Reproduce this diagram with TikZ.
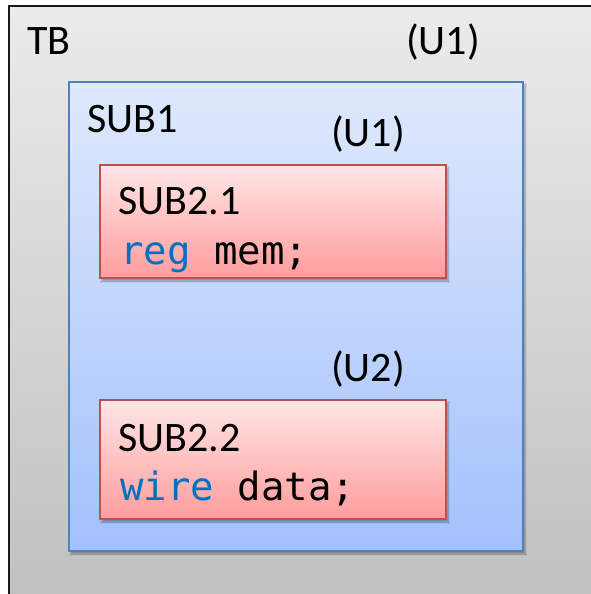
\documentclass[tikz,border=0pt]{standalone}
\usepackage{fontspec}
\setmainfont{Carlito}
\newfontfamily\codefont{DejaVu Sans Mono}
\usetikzlibrary{shadows.blur}
\definecolor{tbedge}{HTML}{1A1A1A}
\definecolor{tbtop}{HTML}{EBEBEB}
\definecolor{tbbot}{HTML}{BEBEBE}
\definecolor{subedge}{HTML}{4F81BD}
\definecolor{subtop}{HTML}{DFE9FC}
\definecolor{subbot}{HTML}{A2C1FC}
\definecolor{modedge}{HTML}{C0504D}
\definecolor{modtop}{HTML}{FFE6E6}
\definecolor{modbot}{HTML}{FF9C9C}
\definecolor{kwblue}{HTML}{0070C0}
\tikzset{
  boxbase/.style={rectangle, anchor=north west, inner sep=0pt, outer sep=0pt},
  dropshade/.style={blur shadow={shadow xshift=2pt, shadow yshift=-3pt, shadow blur steps=6, shadow opacity=35}},
  tbbox/.style={boxbase, draw=tbedge, line width=2pt, top color=tbtop, bottom color=tbbot},
  subbox/.style={boxbase, dropshade, draw=subedge, line width=2.5pt, top color=subtop, bottom color=subbot},
  modbox/.style={boxbase, dropshade, draw=modedge, line width=2pt, top color=modtop, bottom color=modbot},
  lbl/.style={anchor=base west, inner sep=0pt, font=\fontsize{42}{50}\selectfont},
  code/.style={anchor=base west, inner sep=0pt, font=\codefont\fontsize{39}{47}\selectfont},
}
\begin{document}
\begin{tikzpicture}[x=1pt, y=-1pt]
  \clip (0,0) rectangle (591,594);
  \fill[white] (0,0) rectangle (591,594);
  % testbench frame, running past the right and bottom edges
  \node[tbbox, minimum width=620, minimum height=620] (tb) at (9,6) {};
  \node[lbl] (tbname) at (27,55) {TB};
  \node[lbl] (tbinst) at (406,55) {(U1)};
  % first-level submodule
  \node[subbox, minimum width=454, minimum height=469] (sub1) at (69,82) {};
  \node[lbl] (subname) at (87,132) {SUB1};
  \node[lbl] (subinst) at (331,146) {(U1)};
  % second-level submodules
  \node[modbox, minimum width=346, minimum height=113] (suba) at (100,165) {};
  \node[lbl] (subaname) at (118,214) {SUB2.1};
  \node[code] (subacode) at (120,264) {\textcolor{kwblue}{reg} mem;};
  \node[lbl] (subbinst) at (331,381) {(U2)};
  \node[modbox, minimum width=346, minimum height=119] (subb) at (100,400) {};
  \node[lbl] (subbname) at (118,451) {SUB2.2};
  \node[code] (subbcode) at (120,500) {\textcolor{kwblue}{wire} data;};
\end{tikzpicture}
\end{document}
